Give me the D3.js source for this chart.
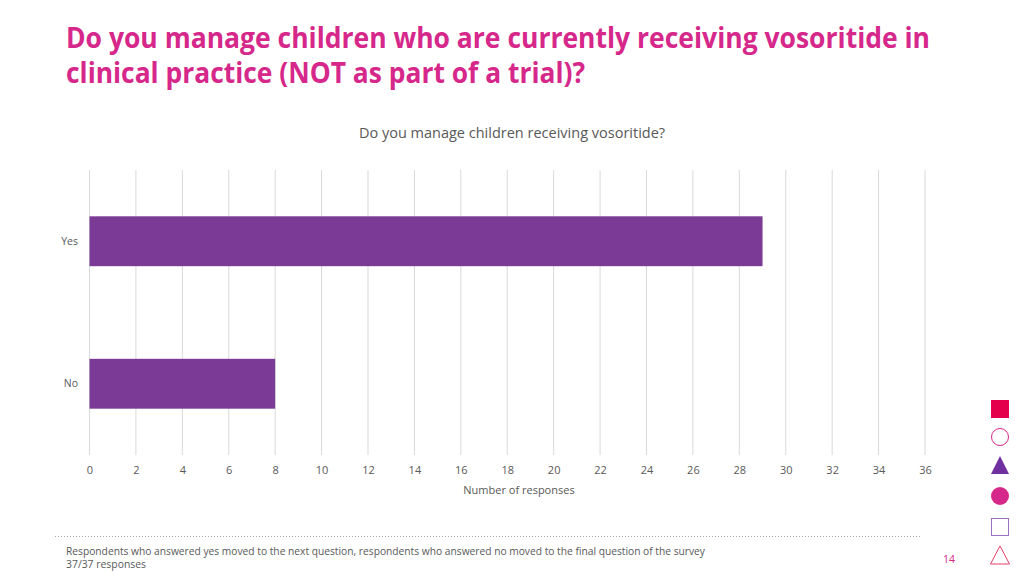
<!DOCTYPE html>
<html><head><meta charset="utf-8">
<script src="https://cdn.jsdelivr.net/npm/d3@7/dist/d3.min.js"></script>
<style>body{margin:0;background:#fff;}svg{display:block;}</style>
</head><body>
<svg id="c" width="1024" height="576"></svg>
<script>
const categories = ["Yes", "No"];
const values = [29, 8];
const tickValues = [0,2,4,6,8,10,12,14,16,18,20,22,24,26,28,30,32,34,36];
const titleLines = ["Do you manage children who are currently receiving vosoritide in", "clinical practice (NOT as part of a trial)?"];
const chartTitle = "Do you manage children receiving vosoritide?";
const axisTitle = "Number of responses";
const footnotes = ["Respondents who answered yes moved to the next question, respondents who answered no moved to the final question of the survey", "37/37 responses"];
const pageNumber = "14";

const svg = d3.select("#c");
const font = "'Open Sans','Liberation Sans',sans-serif";

function fit(sel, w){
  const n = sel.node(); const cw = n.getComputedTextLength();
  if (cw > 0) sel.attr("textLength", w).attr("lengthAdjust","spacingAndGlyphs");
}

// Title
const titleW = [864, 519];
titleLines.forEach((l,i)=>{
  const t = svg.append("text").attr("x",66).attr("y",48+i*35).text(l)
    .attr("font-family",font).attr("font-weight","bold").attr("font-size",28)
    .attr("fill","#D6288A");
  fit(t, titleW[i]);
});

const x = d3.scaleLinear().domain([0,36]).range([89.5,925]);
const y = d3.scaleBand().domain(categories).range([170,455]).paddingInner(0.65).paddingOuter(0.325);

svg.append("text").attr("x",512).attr("y",138).attr("text-anchor","middle")
  .attr("font-family",font).attr("font-size",14.5).attr("fill","#595959").text(chartTitle);

// grid
svg.append("g").selectAll("line").data(tickValues).join("line")
  .attr("x1",d=>x(d)).attr("x2",d=>x(d)).attr("y1",170).attr("y2",455)
  .attr("stroke","#d9d9d9").attr("stroke-width",1);

// x axis labels
const xa = svg.append("g").attr("transform","translate(0,462)")
  .call(d3.axisBottom(x).tickValues(tickValues).tickSize(0).tickPadding(4));
xa.select(".domain").remove();
xa.selectAll("text").attr("font-family",font).attr("font-size",11).attr("fill","#595959");

svg.append("text").attr("x",519).attr("y",494).attr("text-anchor","middle")
  .attr("font-family",font).attr("font-size",11).attr("fill","#595959").text(axisTitle);

// y labels
const ya = svg.append("g").attr("transform","translate(82,0)")
  .call(d3.axisLeft(y).tickSize(0).tickPadding(4));
ya.select(".domain").remove();
ya.selectAll("text").attr("font-family",font).attr("font-size",10.5).attr("fill","#595959");

// bars
svg.append("g").selectAll("rect").data(categories).join("rect")
  .attr("x",x(0)).attr("y",d=>y(d)).attr("height",y.bandwidth())
  .attr("width",(d,i)=>x(values[i])-x(0)).attr("fill","#7B3A96");

// dotted line
svg.append("line").attr("x1",55).attr("x2",920).attr("y1",536.5).attr("y2",536.5)
  .attr("stroke","#a6a6a6").attr("stroke-width",1).attr("stroke-dasharray","1,2");

const footW = [639, 80];
footnotes.forEach((f,i)=>{
  const t = svg.append("text").attr("x",66).attr("y",555+i*13).text(f)
    .attr("font-family",font).attr("font-size",10.5).attr("fill","#595959");
  fit(t, footW[i]);
});
svg.append("text").attr("x",949).attr("y",563).attr("text-anchor","middle").text(pageNumber)
  .attr("font-family",font).attr("font-size",10.5).attr("fill","#D6288A");

// decorative icons
const ic = svg.append("g");
ic.append("rect").attr("x",991).attr("y",400).attr("width",18).attr("height",18).attr("fill","#E4004B");
ic.append("circle").attr("cx",1000).attr("cy",437).attr("r",8.5).attr("fill","none").attr("stroke","#D6288A").attr("stroke-width",1);
ic.append("path").attr("d","M1000,456 L1009,474 L991,474 Z").attr("fill","#7030A0");
ic.append("circle").attr("cx",1000).attr("cy",496).attr("r",9).attr("fill","#D6288A");
ic.append("rect").attr("x",991.5).attr("y",518.5).attr("width",17).attr("height",17).attr("fill","none").attr("stroke","#9D72B8").attr("stroke-width",1);
ic.append("path").attr("d","M1000,546 L1009.5,564 L990.5,564 Z").attr("fill","none").attr("stroke","#E4406B").attr("stroke-width",1);
</script>
</body></html>
